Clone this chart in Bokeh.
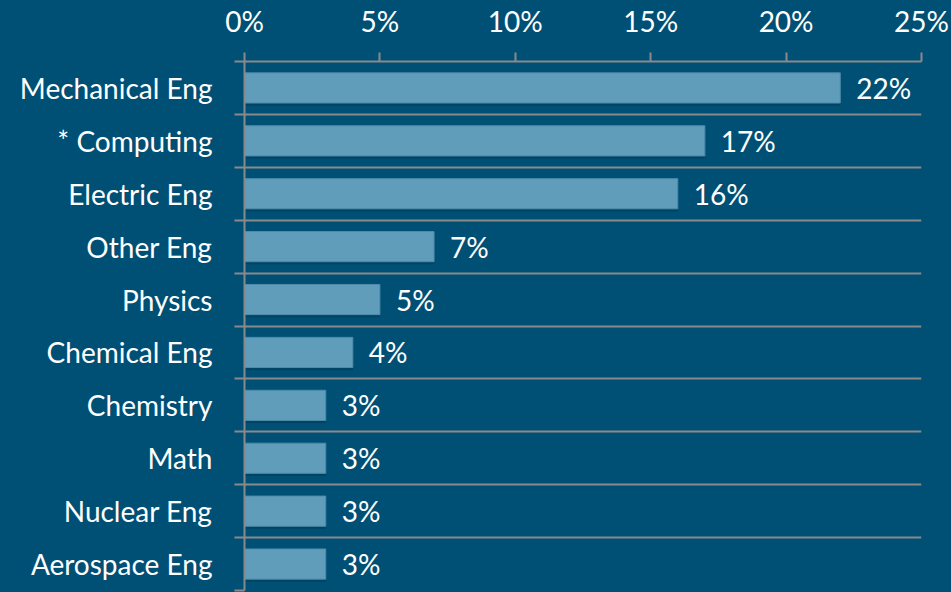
from bokeh.plotting import figure
from bokeh.models import Range1d, FixedTicker, ColumnDataSource
from bokeh.embed import file_html
from bokeh.resources import INLINE
from bokeh.core.properties import value

categories = ["Mechanical Eng", "* Computing", "Electric Eng", "Other Eng", "Physics",
              "Chemical Eng", "Chemistry", "Math", "Nuclear Eng", "Aerospace Eng"]
shares = [22, 17, 16, 7, 5, 4, 3, 3, 3, 3]
x_ticks = [0, 5, 10, 15, 20, 25]
x_tick_labels = ["0%", "5%", "10%", "15%", "20%", "25%"]

BG = "#005075"
BAR = "#5f9dba"
LINE = "#8a8a8a"
FONT = "Lato"

pos = [i + 0.5 for i in range(len(categories))]
src = ColumnDataSource(dict(
    y=pos,
    v=shares,
    ys=[y + 0.05 for y in pos],
    lbl=[f"{s}%" for s in shares],
))

p = figure(width=951, height=592, x_range=Range1d(0, 25), y_range=Range1d(len(categories), 0),
           output_backend="svg", toolbar_location=None, x_axis_location="above",
           min_border_left=244, min_border_right=30, min_border_top=60, min_border_bottom=2)
p.background_fill_color = BG
p.border_fill_color = BG
p.outline_line_color = None

# shadow then bar
p.hbar(y="ys", right="v", left=0, height=0.57, source=src, fill_color="#003a57",
       fill_alpha=0.6, line_color=None)
p.hbar(y="y", right="v", left=0, height=0.57, source=src, fill_color=BAR,
       line_color="#4f8cab", line_width=1)
p.text(x="v", y="y", text="lbl", source=src, x_offset=16, text_align="left",
       text_baseline="middle", text_color="white", text_font=value(FONT),
       text_font_size="28px")

# x axis on top
xa = p.xaxis[0]
xa.ticker = FixedTicker(ticks=x_ticks)
xa.major_label_overrides = {t: l for t, l in zip(x_ticks, x_tick_labels)}
xa.axis_line_color = LINE
xa.axis_line_width = 2
xa.major_tick_line_color = LINE
xa.major_tick_line_width = 2
xa.major_tick_out = 9
xa.major_tick_in = 0
xa.minor_tick_line_color = None
xa.major_label_text_color = "white"
xa.major_label_text_font = FONT
xa.major_label_text_font_size = "28px"
xa.major_label_standoff = 15

# y axis
ya = p.yaxis[0]
ya.ticker = FixedTicker(ticks=pos, minor_ticks=list(range(len(categories) + 1)))
ya.major_label_overrides = {y: c for y, c in zip(pos, categories)}
ya.axis_line_color = LINE
ya.axis_line_width = 2
ya.major_tick_line_color = None
ya.major_tick_out = 0
ya.major_tick_in = 0
ya.minor_tick_line_color = LINE
ya.minor_tick_line_width = 2
ya.minor_tick_out = 10
ya.minor_tick_in = 0
ya.major_label_text_color = "white"
ya.major_label_text_font = FONT
ya.major_label_text_font_size = "28px"
ya.major_label_standoff = 22

p.xgrid.grid_line_color = None
p.ygrid.grid_line_color = None
p.ygrid.minor_grid_line_color = LINE
p.ygrid.minor_grid_line_width = 2

html = file_html(p, INLINE)
html = html.replace("<head>", "<head><style>html,body{margin:0;padding:0;background:%s;overflow:hidden;}</style>" % BG, 1)
open("out.html", "w").write(html)
